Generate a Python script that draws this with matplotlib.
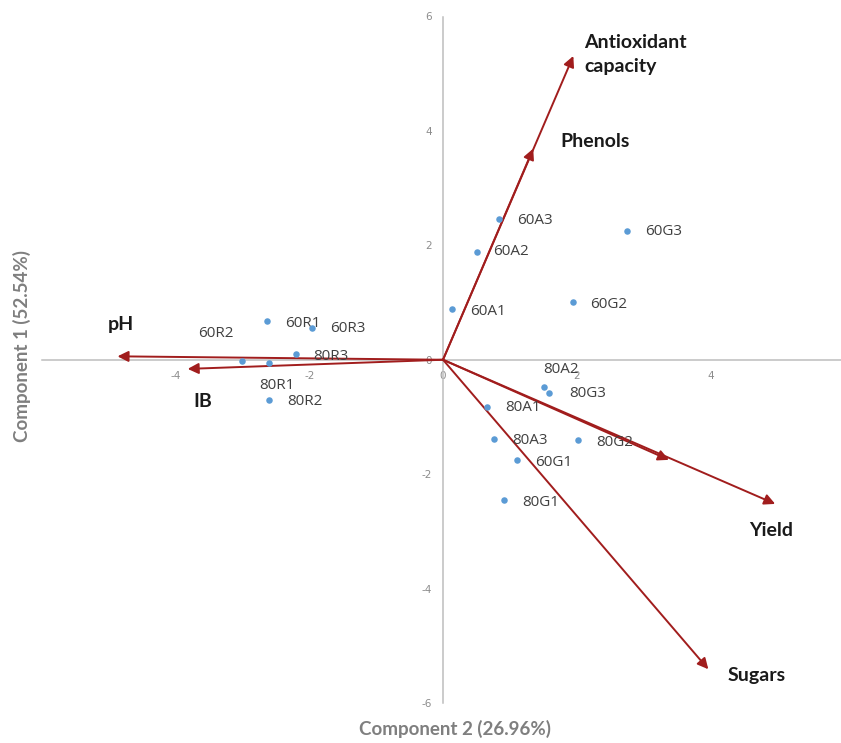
import matplotlib
matplotlib.use("Agg")
import matplotlib.pyplot as plt
from matplotlib.patches import FancyArrowPatch

# ---- data ----
obs_names = ["60A1", "60A2", "60A3", "60G1", "60G2", "60G3",
             "60R1", "60R2", "60R3",
             "80A1", "80A2", "80A3", "80G1", "80G2", "80G3",
             "80R1", "80R2", "80R3"]
comp2 = [0.13, 0.51, 0.84, 1.11, 1.95, 2.75,
         -2.63, -3.01, -1.96,
         0.66, 1.51, 0.76, 0.91, 2.02, 1.59,
         -2.60, -2.60, -2.20]
comp1 = [0.89, 1.89, 2.46, -1.75, 1.01, 2.25,
         0.68, -0.02, 0.56,
         -0.82, -0.47, -1.38, -2.45, -1.41, -0.58,
         -0.06, -0.71, 0.10]

var_names = ["pH", "IB", "Antioxidant\ncapacity", "Phenols", "", "Yield", "Sugars"]
var_x = [-4.87, -3.82, 1.95, 1.35, 3.38, 4.97, 3.97]
var_y = [0.06, -0.16, 5.31, 3.69, -1.75, -2.52, -5.41]

x_ticks = [-4, -2, 0, 2, 4, 6]
y_ticks = [-6, -4, -2, 0, 2, 4, 6]

# ---- style / layout (pixel offsets for labels) ----
obs_off = {
    "60A1": (18, -3), "60A2": (16, 0), "60A3": (18, -1), "60G1": (18, -3),
    "60G2": (17, -3), "60G3": (18, 0), "60R1": (18, -3), "60R2": (-44, 27),
    "60R3": (18, -1), "80A1": (18, -1), "80A2": (-1, 17), "80A3": (18, -2),
    "80G1": (18, -3), "80G2": (18, -2), "80G3": (20, -1), "80R1": (-10, -22),
    "80R2": (18, -1), "80R3": (17, -2),
}
var_off = {
    "pH": (3, 32, "center"), "IB": (15, -33, "center"),
    "Antioxidant\ncapacity": (11, 1, "left"), "Phenols": (27, 7, "left"),
    "Yield": (-4, -27, "center"), "Sugars": (19, -6, "left"),
}

W, H = 841, 743
fig = plt.figure(figsize=(W / 100, H / 100), dpi=100)
ax = fig.add_axes([42 / W, 40 / H, (844 - 42) / W, (703 - 16.5) / H])
ax.set_xlim(-6, 6)
ax.set_ylim(-6, 6)

for s in ["top", "right"]:
    ax.spines[s].set_visible(False)
ax.spines["left"].set_position(("data", 0))
ax.spines["bottom"].set_position(("data", 0))
for s in ["left", "bottom"]:
    ax.spines[s].set_color("#bdbdbd")
    ax.spines[s].set_linewidth(1.1)

ax.set_xticks(x_ticks)
ax.set_yticks(y_ticks)
ax.tick_params(length=0, labelsize=7.5, labelcolor="#8c8c8c", pad=8)
ax.set_xticklabels([str(t) for t in x_ticks])
ax.set_yticklabels([str(t) for t in y_ticks])

red = "#a11d1d"
for name, vx, vy in zip(var_names, var_x, var_y):
    arr = FancyArrowPatch((0, 0), (vx, vy), arrowstyle="-|>", mutation_scale=16,
                          color=red, lw=1.4, shrinkA=0, shrinkB=0, zorder=3)
    ax.add_patch(arr)
    if name:
        dx, dy, ha = var_off[name]
        ax.annotate(name, (vx, vy), xytext=(dx, dy), textcoords="offset pixels",
                    ha=ha, va="center", fontsize=14, fontweight="bold",
                    family="Lato", color="#1a1a1a", linespacing=1.5)

ax.scatter(comp2, comp1, s=22, color="#5b9bd5", zorder=4, linewidths=0)
for name, x, y in zip(obs_names, comp2, comp1):
    dx, dy = obs_off[name]
    ax.annotate(name, (x, y), xytext=(dx, dy), textcoords="offset pixels",
                ha="left", va="center", fontsize=11, family="Open Sans",
                color="#404040")

fig.text(455 / W, 1 - 729 / H, "Component 2 (26.96%)", ha="center", va="center",
         fontsize=13.5, fontweight="bold", family="Lato", color="#7f7f7f")
fig.text(22 / W, 1 - 346 / H, "Component 1 (52.54%)", ha="center", va="center",
         rotation=90, fontsize=13.5, fontweight="bold", family="Lato", color="#7f7f7f")

fig.savefig("out.png", dpi=100)
